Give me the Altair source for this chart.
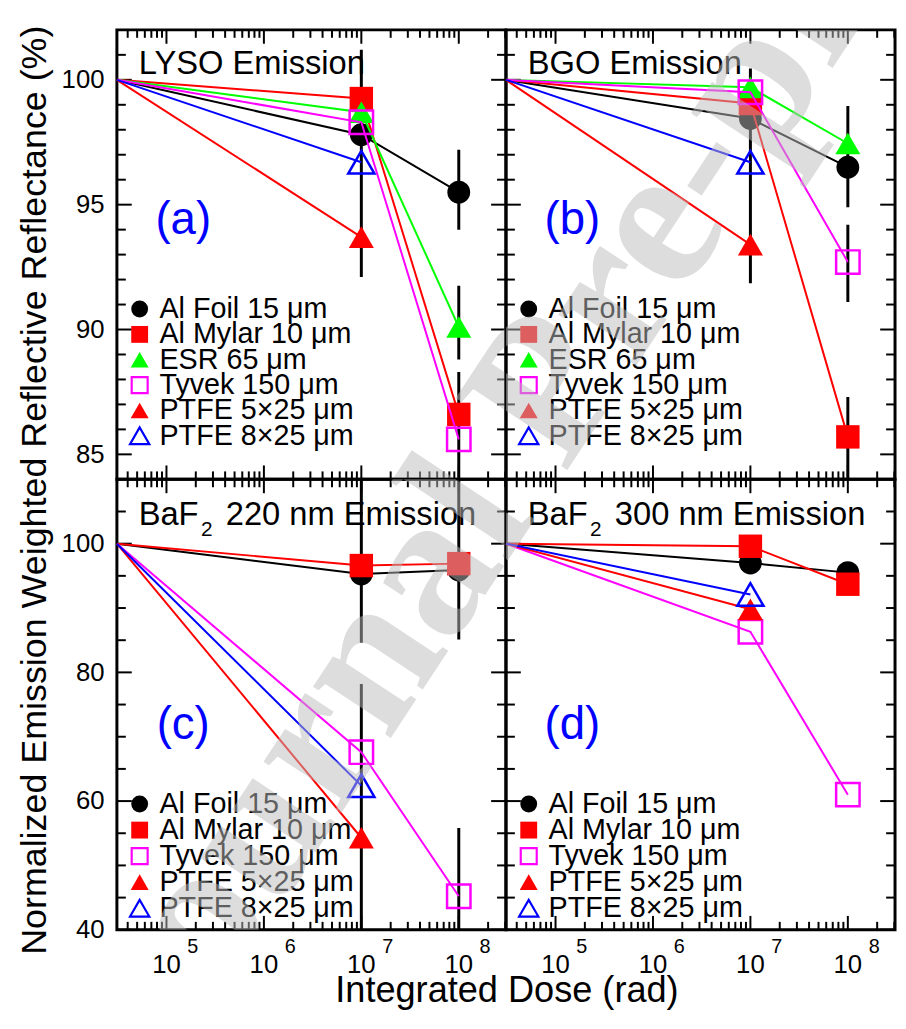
import altair as alt
import pandas as pd

FONT = "Liberation Sans"
SERIF = "Liberation Serif"

# ---------------- data ----------------
SERIES = ["Al Foil 15 μm", "Al Mylar 10 μm", "ESR 65 μm", "Tyvek 150 μm",
          "PTFE 5×25 μm", "PTFE 8×25 μm"]
DOSE = [3.1e4, 1e7, 1e8]          # first point = before irradiation (left edge)

# (a) LYSO emission
LYSO_ALFOIL = [100, 97.8, 95.5]
LYSO_ALMYLAR = [100, 99.25, 86.6]
LYSO_ESR = [100, 98.7, 90.1]
LYSO_TYVEK = [100, 98.3, 85.6]
LYSO_PTFE5 = [100, 93.7, None]
LYSO_PTFE8 = [100, 96.7, None]
LYSO_ERR_X = [1e7, 1e8, 1e8, 1e8]
LYSO_ERR_LO = [92.1, 94.0, 88.8, 84.0]
LYSO_ERR_HI = [101.2, 97.2, 91.75, 88.3]

# (b) BGO emission
BGO_ALFOIL = [100, 98.45, 96.5]
BGO_ALMYLAR = [100, 99.05, 85.7]
BGO_ESR = [100, 99.7, 97.45]
BGO_TYVEK = [100, 99.5, 92.7]
BGO_PTFE5 = [100, 93.4, None]
BGO_PTFE8 = [100, 96.7, None]
BGO_ERR_X = [1e7, 1e8, 1e8, 1e8]
BGO_ERR_LO = [91.85, 94.9, 91.1, 84.0]
BGO_ERR_HI = [100.45, 98.95, 94.2, 87.3]

# (c) BaF2 220 nm emission
B220_ALFOIL = [100, 95.3, 95.9]
B220_ALMYLAR = [100, 96.6, 96.9]
B220_TYVEK = [100, 67.6, 45.2]
B220_PTFE5 = [100, 54.3, None]
B220_PTFE8 = [100, 62.4, None]
B220_ERR_X = [1e7, 1e7, 1e8, 1e8]
B220_ERR_LO = [84.6, 40.0, 85.1, 40.0]
B220_ERR_HI = [110.0, 78.2, 110.0, 55.8]

# (d) BaF2 300 nm emission
B300_ALFOIL = [100, 97.0, 95.5]
B300_ALMYLAR = [100, 99.6, 93.7]
B300_TYVEK = [100, 86.3, 61.0]
B300_PTFE5 = [100, 89.8, None]
B300_PTFE8 = [100, 92.1, None]

# axes
XDOM = [3.1e4, 3.05e8]
XMAJ = [1e5, 1e6, 1e7, 1e8]
XMAJ_EXP = ["5", "6", "7", "8"]
XMIN = [m * 10 ** k for k in range(4, 9) for m in range(2, 10)
        if XDOM[0] < m * 10 ** k < XDOM[1]]
TOP_YDOM = [84, 102]
TOP_YMAJ = [85, 90, 95, 100]
TOP_YMIN = [86, 87, 88, 89, 91, 92, 93, 94, 96, 97, 98, 99, 101]
BOT_YDOM = [40, 110]
BOT_YMAJ = [40, 60, 80, 100]
BOT_YMIN = [45, 50, 55, 65, 70, 75, 85, 90, 95, 105]

# ---------------- style ----------------
W = 393
H_TOP = 454
H_BOT = 455
STYLE = {
    "Al Foil 15 μm": dict(color="black", shape="circle", filled=True, size=530, lsize=290),
    "Al Mylar 10 μm": dict(color="#ff0000", shape="square", filled=True, size=560, lsize=290),
    "ESR 65 μm": dict(color="#00ff00", shape="triangle-up", filled=True, size=640, lsize=330),
    "Tyvek 150 μm": dict(color="#ff00ff", shape="square", filled=False, size=560, lsize=260),
    "PTFE 5×25 μm": dict(color="#ff0000", shape="triangle-up", filled=True, size=640, lsize=330),
    "PTFE 8×25 μm": dict(color="#0000ff", shape="triangle-up", filled=False, size=700, lsize=380),
}
ONE = pd.DataFrame({"k": [0]})
WM_X, WM_Y = 48, 1062   # watermark anchor relative to panel (a) origin


def xenc(field):
    return alt.X(f"{field}:Q", scale=alt.Scale(type="log", domain=XDOM, nice=False), axis=None)


def yenc(field, ydom, axis):
    return alt.Y(f"{field}:Q", scale=alt.Scale(domain=ydom, nice=False, zero=False), axis=axis)


def text(t, x, y, size, color="black", align="left", baseline="alphabetic", angle=0, font=FONT):
    kw = dict(text=t, fontSize=size, font=font, color=color, align=align, baseline=baseline)
    if angle:
        kw["angle"] = angle
    return alt.Chart(ONE).mark_text(**kw).encode(x=alt.value(x), y=alt.value(y))


def panel(names, values, err, ydom, ymaj, ymin, H, left, bottom, letter, title_parts,
          leg_y0, leg_dy, wm_dx, wm_dy):
    ax = None
    if left:
        ax = alt.Axis(values=ymaj, labelFontSize=26, labelFont=FONT, labelColor="black",
                      ticks=False, domain=False, grid=False, title=None, labelPadding=13,
                      labelOverlap=False, labelFlush=False)
    layers = []
    # inward ticks on all four sides
    for vals, ln in ((ymaj, 15), (ymin, 9)):
        tdf = pd.DataFrame({"v": vals})
        layers.append(alt.Chart(tdf).mark_rule(color="black", strokeWidth=2).encode(
            y=yenc("v", ydom, ax), x=alt.value(0), x2=alt.value(ln)))
        layers.append(alt.Chart(tdf).mark_rule(color="black", strokeWidth=2).encode(
            y=yenc("v", ydom, ax), x=alt.value(W), x2=alt.value(W - ln)))
    for vals, ln in ((XMAJ, 14), (XMIN, 8)):
        tdf = pd.DataFrame({"v": vals})
        layers.append(alt.Chart(tdf).mark_rule(color="black", strokeWidth=2).encode(
            x=xenc("v"), y=alt.value(0), y2=alt.value(ln)))
        layers.append(alt.Chart(tdf).mark_rule(color="black", strokeWidth=2).encode(
            x=xenc("v"), y=alt.value(H), y2=alt.value(H - ln)))
    if err is not None:
        edf = pd.DataFrame({"x": err[0], "lo": err[1], "hi": err[2]})
        layers.append(alt.Chart(edf).mark_rule(color="black", strokeWidth=3, clip=True).encode(
            x=xenc("x"), y=yenc("lo", ydom, ax), y2="hi:Q"))
    for name, vals in zip(names, values):
        st = STYLE[name]
        df = pd.DataFrame({"dose": DOSE, "value": vals}).dropna()
        layers.append(alt.Chart(df).mark_line(color=st["color"], strokeWidth=2).encode(
            x=xenc("dose"), y=yenc("value", ydom, ax)))
        pk = dict(shape=st["shape"], filled=st["filled"], size=st["size"], color=st["color"], opacity=1)
        if not st["filled"]:
            pk["strokeWidth"] = 2.5
        layers.append(alt.Chart(df.iloc[1:]).mark_point(**pk).encode(
            x=xenc("dose"), y=yenc("value", ydom, ax)))
    # legend
    for i, name in enumerate(names):
        st = STYLE[name]
        yy = leg_y0 + i * leg_dy
        pk = dict(shape=st["shape"], filled=st["filled"], size=st["lsize"], color=st["color"], opacity=1)
        if not st["filled"]:
            pk["strokeWidth"] = 2.2
        layers.append(alt.Chart(ONE).mark_point(**pk).encode(x=alt.value(23), y=alt.value(yy)))
        layers.append(text(name, 43, yy, 29, baseline="middle"))
    # panel title and letter
    for t, x, y, s in title_parts:
        layers.append(text(t, x, y, s))
    layers.append(text(letter, 67, 192 if H == H_TOP else 248, 46, color="#0000ff",
                       align="center", baseline="middle"))
    # x tick labels (10 with superscript exponent)
    if bottom:
        ldf = pd.DataFrame({"v": XMAJ, "e": XMAJ_EXP})
        layers.append(alt.Chart(ldf).mark_text(text="10", fontSize=26, font=FONT, color="black",
                                               align="center", baseline="alphabetic").encode(
            x=xenc("v"), y=alt.value(H + 44)))
        layers.append(alt.Chart(ldf).mark_text(fontSize=20, font=FONT, color="black", dx=21,
                                               align="left", baseline="alphabetic").encode(
            x=xenc("v"), y=alt.value(H + 23), text="e:N"))
    # watermark
    layers.append(alt.Chart(ONE).mark_text(
        text="Journal Pre-proof", font=SERIF, fontSize=205, fontWeight="bold", color="#bbbbbb",
        opacity=0.5, angle=303.4, align="left", baseline="alphabetic", clip=True).encode(
        x=alt.value(WM_X - wm_dx), y=alt.value(WM_Y - wm_dy)))
    return layers


TOP6 = SERIES
BOT5 = [SERIES[0], SERIES[1], SERIES[3], SERIES[4], SERIES[5]]

la = panel(TOP6, [LYSO_ALFOIL, LYSO_ALMYLAR, LYSO_ESR, LYSO_TYVEK, LYSO_PTFE5, LYSO_PTFE8],
           (LYSO_ERR_X, LYSO_ERR_LO, LYSO_ERR_HI), TOP_YDOM, TOP_YMAJ, TOP_YMIN, H_TOP,
           True, False, "(a)", [("LYSO Emission", 22, 45, 33)], 282, 25.6, 0, 0)
la.append(text("Normalized Emission Weighted Reflective Reflectance (%)", -72, 465, 36.2,
               align="center", angle=270))
lb = panel(TOP6, [BGO_ALFOIL, BGO_ALMYLAR, BGO_ESR, BGO_TYVEK, BGO_PTFE5, BGO_PTFE8],
           (BGO_ERR_X, BGO_ERR_LO, BGO_ERR_HI), TOP_YDOM, TOP_YMAJ, TOP_YMIN, H_TOP,
           False, False, "(b)", [("BGO Emission", 22, 45, 33)], 282, 25.6, W, 0)
lc = panel(BOT5, [B220_ALFOIL, B220_ALMYLAR, B220_TYVEK, B220_PTFE5, B220_PTFE8],
           (B220_ERR_X, B220_ERR_LO, B220_ERR_HI), BOT_YDOM, BOT_YMAJ, BOT_YMIN, H_BOT,
           True, True, "(c)",
           [("BaF", 22, 46, 33), ("2", 85, 57, 21), ("220 nm Emission", 110, 46, 33)],
           328, 26.3, 0, H_TOP)
lc.append(text("Integrated Dose (rad)", W + 1, H_BOT + 73, 36.5, align="center"))
ld = panel(BOT5, [B300_ALFOIL, B300_ALMYLAR, B300_TYVEK, B300_PTFE5, B300_PTFE8],
           None, BOT_YDOM, BOT_YMAJ, BOT_YMIN, H_BOT,
           False, True, "(d)",
           [("BaF", 22, 46, 33), ("2", 85, 57, 21), ("300 nm Emission", 110, 46, 33)],
           328, 26.3, W, H_TOP)

ca = alt.layer(*la).properties(width=W, height=H_TOP)
cb = alt.layer(*lb).properties(width=W, height=H_TOP)
cc = alt.layer(*lc).properties(width=W, height=H_BOT)
cd = alt.layer(*ld).properties(width=W, height=H_BOT)

chart = alt.concat(ca, cb, cc, cd, columns=2, spacing=0, bounds="flush").properties(
    padding={"left": 7, "top": 11, "right": 0, "bottom": 0}
).configure_view(stroke="black", strokeWidth=3)

chart.save("out.html", embed_options={"renderer": "svg", "actions": False})
